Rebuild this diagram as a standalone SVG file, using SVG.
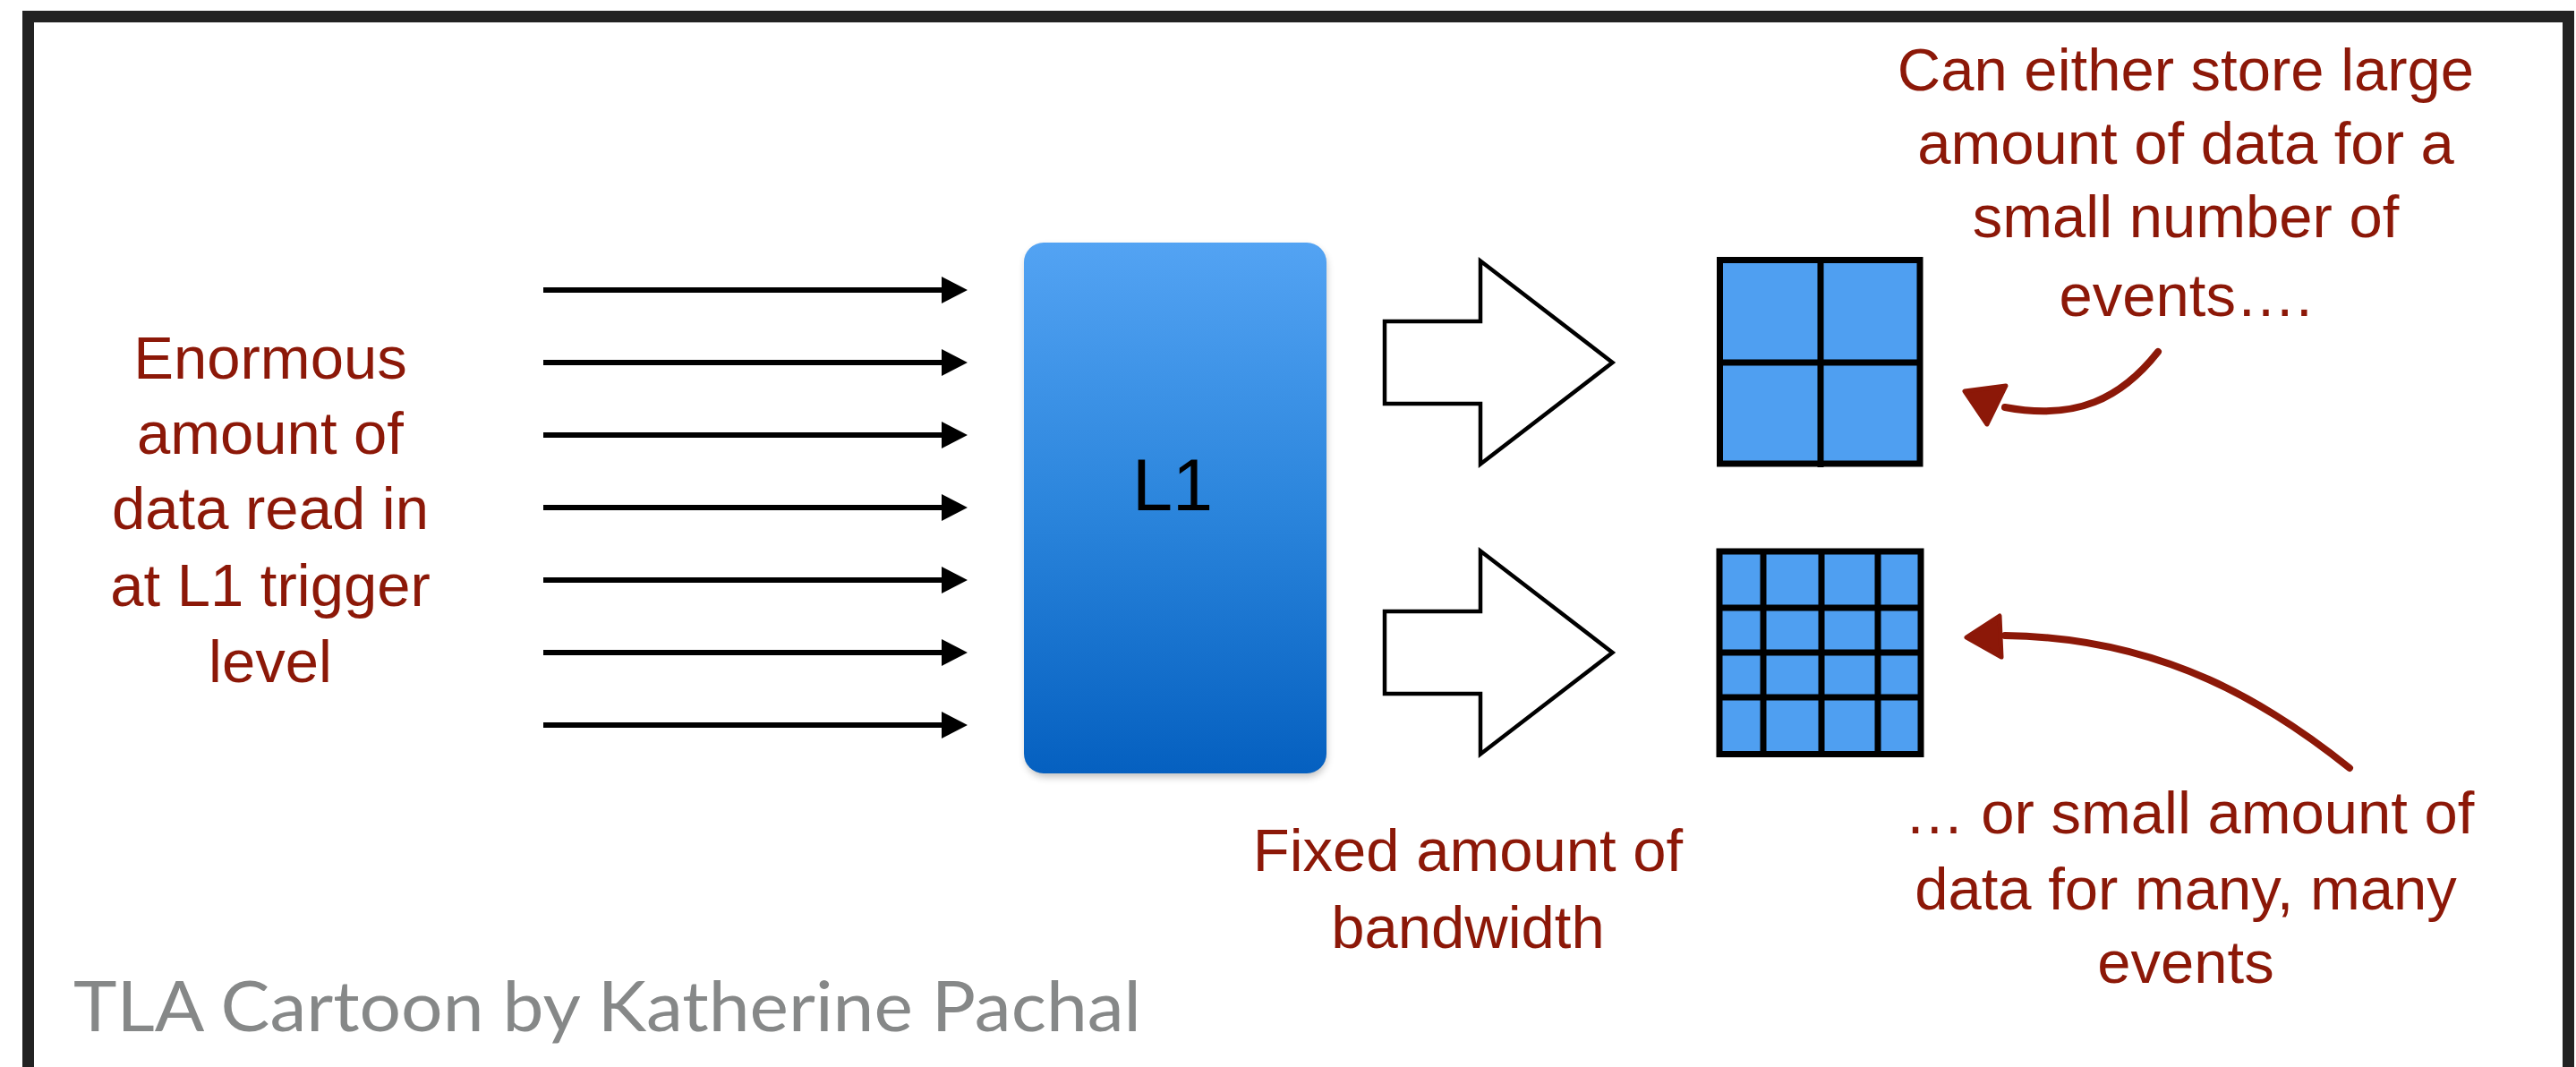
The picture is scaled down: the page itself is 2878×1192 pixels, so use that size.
<svg xmlns="http://www.w3.org/2000/svg" width="2878" height="1192" viewBox="0 0 2878 1192">
  <defs>
    <style>
      .note { font-family: "Liberation Sans", Arial, Helvetica, sans-serif; font-size: 67px; fill: #8c1808; text-anchor: middle; }
      .feed { stroke: #000; stroke-width: 6; fill: none; }
      .block { fill: #fff; stroke: #000; stroke-width: 4.5; stroke-linejoin: miter; }
      .cell { fill: #4f9ff1; stroke: #000; stroke-width: 7; }
      .grid { stroke: #000; stroke-width: 7; }
      .pen { fill: none; stroke: #8c1808; stroke-width: 8; stroke-linecap: round; }
      .pen-head { fill: #8c1808; stroke: #8c1808; stroke-width: 5; stroke-linejoin: round; }
    </style>
    <marker id="tip" markerUnits="userSpaceOnUse" markerWidth="30" markerHeight="30" viewBox="0 0 28 29" refX="0" refY="14.5" orient="auto">
      <path d="M0,0 L28,14.5 L0,29 Z" fill="#000"/>
    </marker>
    <linearGradient id="l1fill" x1="0" y1="0" x2="0" y2="1">
      <stop offset="0" stop-color="#53a3f3"/>
      <stop offset="0.5" stop-color="#2b85dc"/>
      <stop offset="1" stop-color="#0560c0"/>
    </linearGradient>
    <filter id="soft" x="-10%" y="-10%" width="120%" height="120%">
      <feGaussianBlur stdDeviation="4"/>
    </filter>
  </defs>

  <!-- page -->
  <rect x="0" y="0" width="2878" height="1192" fill="#fff"/>
  <rect x="31.5" y="18.5" width="2838" height="1200" fill="none" stroke="#222" stroke-width="13"/>

  <!-- input label -->
  <g id="input-label">
    <text class="note" x="302" y="423">Enormous</text>
    <text class="note" x="302" y="507">amount of</text>
    <text class="note" x="302" y="591">data read in</text>
    <text class="note" x="302" y="677">at L1 trigger</text>
    <text class="note" x="302" y="762">level</text>
  </g>

  <!-- L1 trigger block -->
  <g id="l1">
    <rect x="1146" y="276" width="336" height="592" rx="22" fill="#000" opacity="0.25" filter="url(#soft)"/>
    <rect x="1144" y="271" width="338" height="593" rx="22" fill="url(#l1fill)"/>
    <text x="1310" y="570" font-family="'Liberation Sans', Arial, sans-serif" font-size="81" text-anchor="middle" fill="#000">L1</text>
  </g>

  <!-- storage option: few large events -->
  <g id="grid-coarse">
    <rect class="cell" x="1921.5" y="290.5" width="223.5" height="227.5"/>
    <line class="grid" x1="2034" y1="290.5" x2="2034" y2="522"/>
    <line class="grid" x1="1921.5" y1="405" x2="2145" y2="405"/>
  </g>

  <!-- storage option: many small events -->
  <g id="grid-fine">
    <rect class="cell" x="1921" y="616" width="225" height="226.5"/>
    <line class="grid" x1="1970" y1="616" x2="1970" y2="842.5"/>
    <line class="grid" x1="2035" y1="616" x2="2035" y2="842.5"/>
    <line class="grid" x1="2098" y1="616" x2="2098" y2="842.5"/>
    <line class="grid" x1="1921" y1="679" x2="2146" y2="679"/>
    <line class="grid" x1="1921" y1="729" x2="2146" y2="729"/>
    <line class="grid" x1="1921" y1="779" x2="2146" y2="779"/>
  </g>

  <!-- annotations -->
  <g id="note-large">
    <text class="note" x="2442" y="101">Can either store large</text>
    <text class="note" x="2442" y="183">amount of data for a</text>
    <text class="note" x="2442" y="265">small number of</text>
    <text class="note" x="2442" y="353">events….</text>
  </g>
  <g id="note-small">
    <text class="note" x="2446" y="931">… or small amount of</text>
    <text class="note" x="2442" y="1016">data for many, many</text>
    <text class="note" x="2442" y="1098">events</text>
  </g>
  <g id="note-bandwidth">
    <text class="note" x="1640" y="973">Fixed amount of</text>
    <text class="note" x="1640" y="1059">bandwidth</text>
  </g>

  <!-- connectors -->
  <g id="connectors">
    <line class="feed" x1="607" y1="324" x2="1052" y2="324" marker-end="url(#tip)"/>
    <line class="feed" x1="607" y1="405" x2="1052" y2="405" marker-end="url(#tip)"/>
    <line class="feed" x1="607" y1="486" x2="1052" y2="486" marker-end="url(#tip)"/>
    <line class="feed" x1="607" y1="567" x2="1052" y2="567" marker-end="url(#tip)"/>
    <line class="feed" x1="607" y1="648" x2="1052" y2="648" marker-end="url(#tip)"/>
    <line class="feed" x1="607" y1="729" x2="1052" y2="729" marker-end="url(#tip)"/>
    <line class="feed" x1="607" y1="810" x2="1052" y2="810" marker-end="url(#tip)"/>

    <polygon class="block" points="1547,359 1654,359 1654,291.5 1801.5,405 1654,518.5 1654,451 1547,451"/>
    <polygon class="block" points="1547,683 1654,683 1654,615.5 1801.5,729 1654,842.5 1654,775 1547,775"/>

    <path class="pen" d="M2411,393 C2370,445 2320,470 2240,455"/>
    <polygon class="pen-head" points="2195,437 2241,431 2220,474"/>
    <path class="pen" d="M2625,858 C2540,790 2420,712 2240,710"/>
    <polygon class="pen-head" points="2197,712 2234,688 2236,734"/>
  </g>

  <!-- credit -->
  <text x="82" y="1152" font-family="Lato, 'Open Sans', sans-serif" font-size="78" fill="#868888" textLength="1193" lengthAdjust="spacingAndGlyphs">TLA Cartoon by Katherine Pachal</text>
</svg>
